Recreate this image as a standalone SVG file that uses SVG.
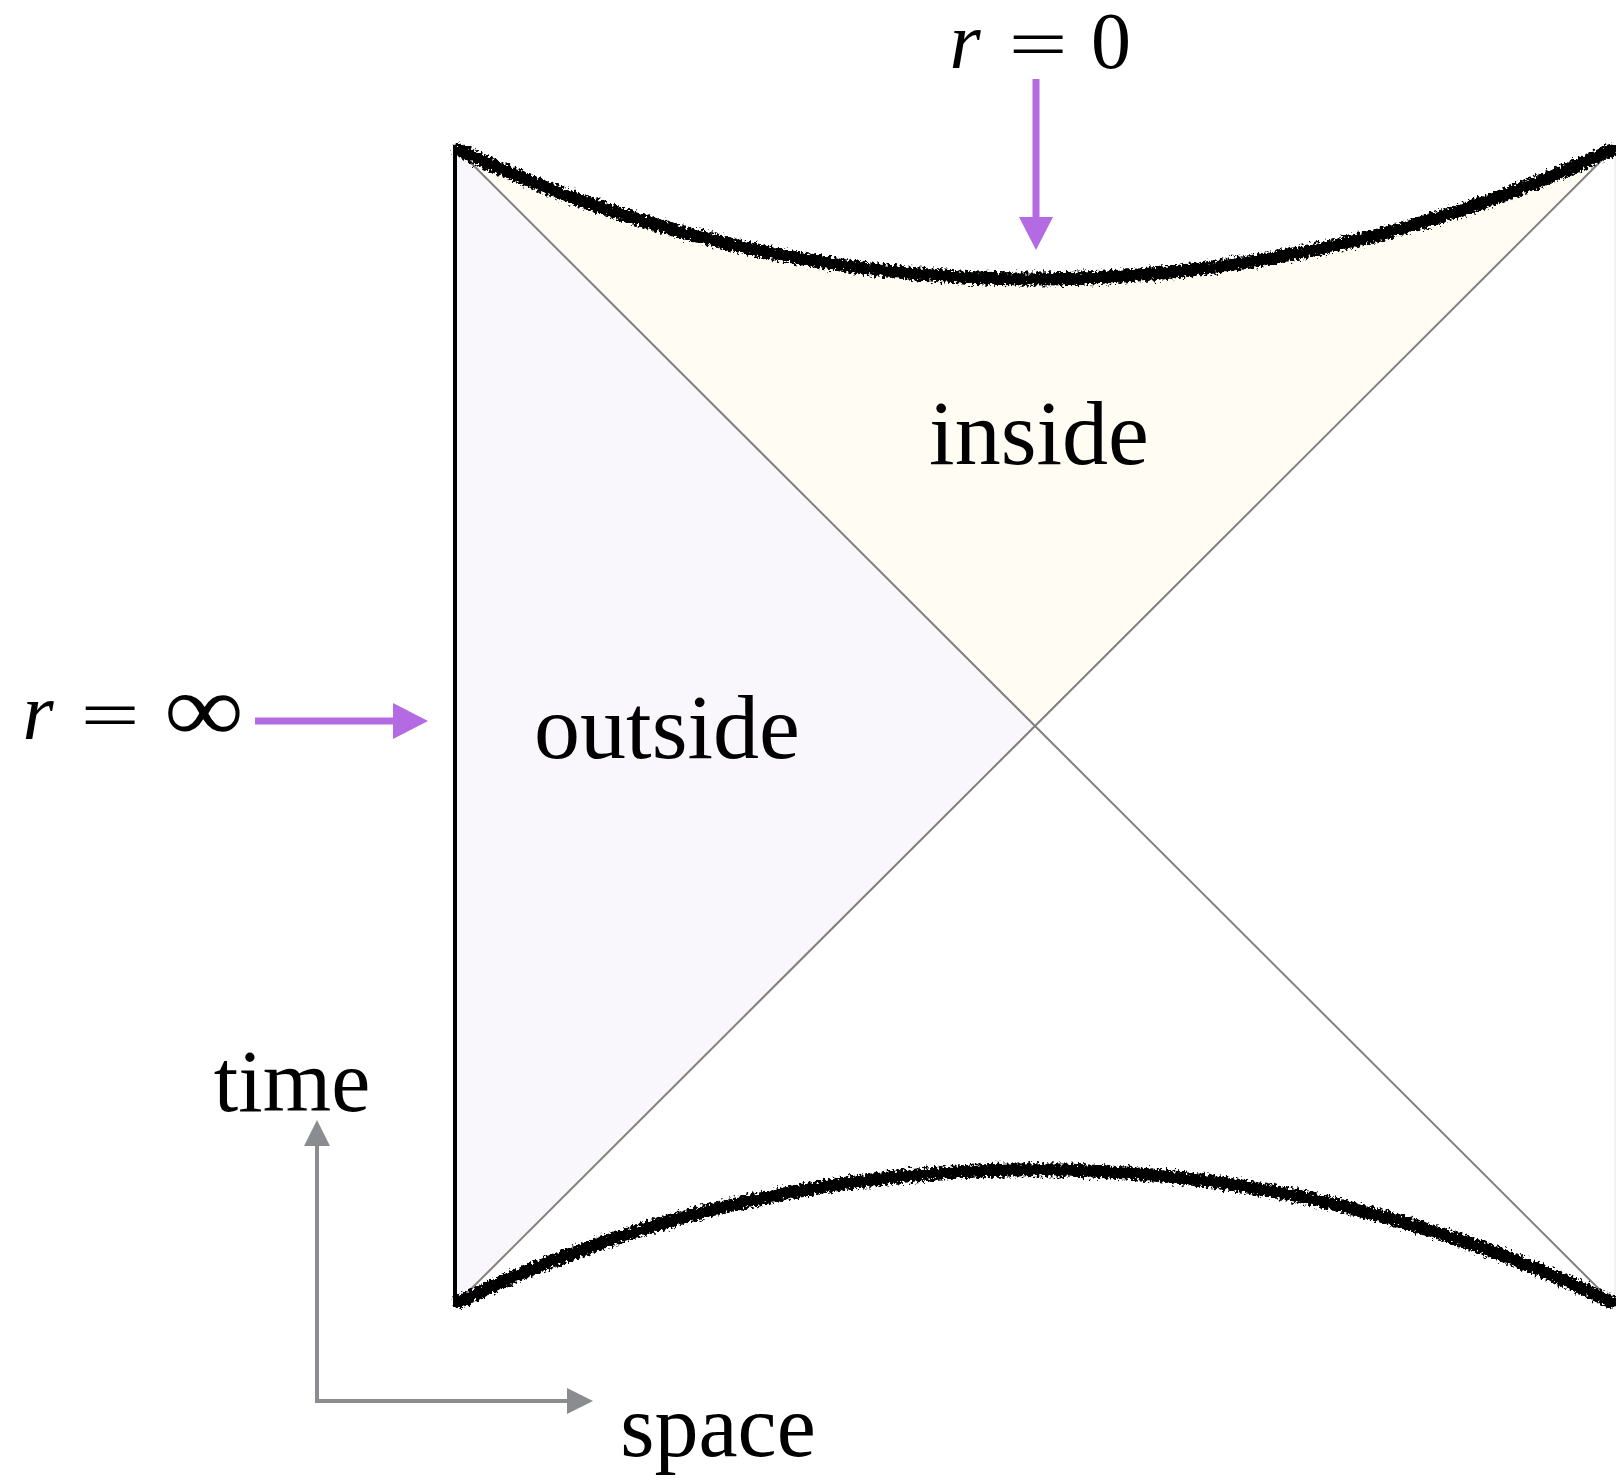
<svg xmlns="http://www.w3.org/2000/svg" width="1616" height="1484" viewBox="0 0 1616 1484">
<defs>
<style>
.lbl{font-family:"Liberation Serif","DejaVu Serif",serif;fill:#000;text-anchor:middle}
.math{font-family:"Liberation Serif","DejaVu Serif",serif;font-size:80px;fill:#000;text-anchor:middle}
.eq{font-size:70px}
.it{font-style:italic}
.diag{stroke:#808080;stroke-width:2;fill:none}
.sing{stroke:#000;stroke-width:13;fill:none;stroke-linecap:round;filter:url(#rough)}
.purple{stroke:#b36ae2;stroke-width:7;fill:none}
.axis{stroke:#8a8c90;stroke-width:4;fill:none}
</style>
<filter id="rough" x="-5%" y="-50%" width="110%" height="200%">
<feTurbulence type="fractalNoise" baseFrequency="0.35" numOctaves="3" seed="7" result="n"/>
<feDisplacementMap in="SourceGraphic" in2="n" scale="10" xChannelSelector="R" yChannelSelector="G"/>
</filter>
</defs>

<g id="outside-region">
<polygon points="455,147 1036,726 455,1305" fill="#f9f6fc"/>
</g>
<g id="inside-region">
<path d="M455,147 A1350,1350 0 0 0 1615,147 L1036,726 Z" fill="#fffcf4"/>
</g>

<g id="horizons">
<line class="diag" x1="455" y1="147" x2="1615" y2="1305"/>
<line class="diag" x1="455" y1="1305" x2="1615" y2="147"/>
</g>

<g id="boundary">
<line x1="455" y1="145" x2="455" y2="1307" stroke="#000" stroke-width="4"/>
<line x1="1615" y1="147" x2="1615" y2="1305" stroke="#ececec" stroke-width="1.5"/>
</g>

<g id="singularities">
<path class="sing" d="M459,150 A1350,1350 0 0 0 1611,150"/>
<path class="sing" d="M459,1302 A1320,1320 0 0 1 1611,1302"/>
</g>

<g id="connectors">
<line class="purple" x1="1036" y1="79" x2="1036" y2="218"/>
<path d="M1019,217 L1053,217 L1036,250 Z" fill="#b36ae2"/>
<line class="purple" x1="255" y1="721" x2="394" y2="721"/>
<path d="M393,703 L428,721 L393,739 Z" fill="#b36ae2"/>
<polyline class="axis" points="317,1145 317,1401 568,1401"/>
<path d="M304,1146 L317,1120 L330,1146 Z" fill="#8a8c90"/>
<path d="M567,1388 L593,1401 L567,1414 Z" fill="#8a8c90"/>
</g>

<g id="label-r0">
<text class="math it" x="965" y="68">r</text>
<text class="math eq" x="0" y="0" transform="translate(1038,68) scale(1.5,1)">=</text>
<text class="math" x="1111" y="68">0</text>
</g>
<g id="label-rinf">
<text class="math it" x="38" y="739">r</text>
<text class="math eq" x="0" y="0" transform="translate(110,739) scale(1.5,1)">=</text>
<text class="math" x="0" y="0" transform="translate(204,741) scale(1.4,1.2)">∞</text>
</g>
<g id="label-inside"><text class="lbl" x="1039" y="464" font-size="92">inside</text></g>
<g id="label-outside"><text class="lbl" x="667" y="758" font-size="92">outside</text></g>
<g id="label-time"><text class="lbl" x="292" y="1111" font-size="88">time</text></g>
<g id="label-space"><text class="lbl" x="718" y="1456" font-size="88">space</text></g>
</svg>
